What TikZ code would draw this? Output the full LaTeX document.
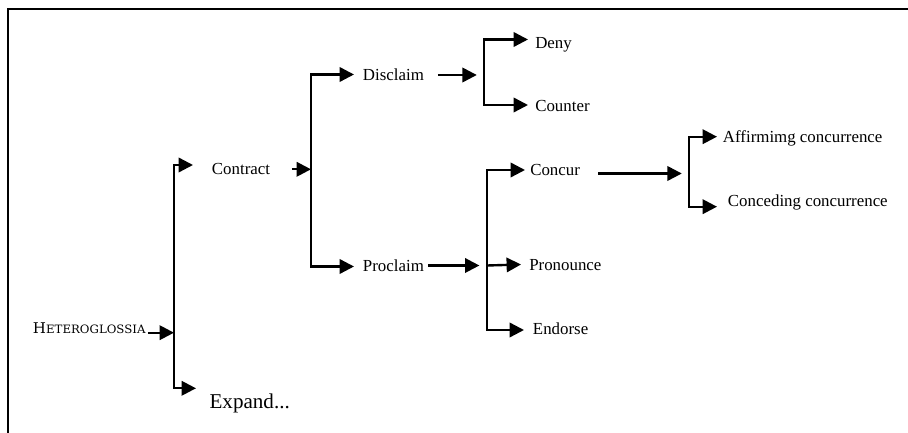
\documentclass[tikz,border=0pt]{standalone}
\usepackage{fontspec}
\setmainfont{Liberation Serif}
\newfontfamily\hetfont{DejaVu Serif}
\usetikzlibrary{arrows.meta}

\begin{document}
\begin{tikzpicture}
  [x=0.25mm,y=-0.25mm,
   lbl/.style={anchor=west,inner sep=0pt,text height=7.9pt,text depth=0pt,font=\fontsize{12}{14}\selectfont},
   arr/.style={-{Triangle[length=3.6mm,width=3.6mm]},line width=1.7pt},
   bar/.style={line width=1.7pt,line cap=rect}]

  \useasboundingbox (0,0) rectangle (908,433);
  \draw[line width=1pt] (8,433) -- (8,9) -- (908,9);

  % labels
  \node[lbl,text height=7.6pt,font=\hetfont] (het) at (32.7,328) {\scalebox{1.02}[1]{\fontsize{10.5}{12}\selectfont H\fontsize{8.2}{9}\selectfont ETEROGLOSSIA}};
  \node[lbl] (contract) at (211.7,169.3) {Contract};
  \node[lbl,text height=9.9pt,font=\fontsize{15}{18}\selectfont] (expand) at (209.3,402) {Expand...};
  \node[lbl] (disclaim) at (362.7,75) {Disclaim};
  \node[lbl] (proclaim) at (362.7,265.5) {Proclaim};
  \node[lbl] (deny) at (535,43) {Deny};
  \node[lbl] (counter) at (535,106) {Counter};
  \node[lbl] (concur) at (530,170) {Concur};
  \node[lbl] (pronounce) at (529,265) {Pronounce};
  \node[lbl] (endorse) at (532.7,329) {Endorse};
  \node[lbl] (affirm) at (722.7,136.7) {Affirmimg concurrence};
  \node[lbl] (concede) at (727.7,200.7) {Conceding concurrence};

  % junctions on the bars
  \coordinate (j1a) at (174,165);
  \coordinate (j1b) at (174,332.7);
  \coordinate (j1c) at (174,388.3);
  \coordinate (j2a) at (311,74.5);
  \coordinate (j2b) at (311,169.3);
  \coordinate (j2c) at (311,266.5);
  \coordinate (j3a) at (484,39.5);
  \coordinate (j3b) at (484,75);
  \coordinate (j3c) at (484,105);
  \coordinate (j4a) at (487,170);
  \coordinate (j4b) at (487,265.5);
  \coordinate (j4c) at (487,330);
  \coordinate (j5a) at (689,136.7);
  \coordinate (j5b) at (689,173.5);
  \coordinate (j5c) at (689,206.7);

  % arrow tips
  \coordinate (tcontract) at (193,165);
  \coordinate (texpand) at (196,388.3);
  \coordinate (tdisclaim) at (354,74.5);
  \coordinate (tproclaim) at (354,266.5);
  \coordinate (tdeny) at (528,39.5);
  \coordinate (tcounter) at (528,105);
  \coordinate (tconcur) at (525,170);
  \coordinate (tpronounce) at (521,264.5);
  \coordinate (tendorse) at (524,330);
  \coordinate (taffirm) at (717,136.7);
  \coordinate (tconcede) at (717,206.7);

  \foreach \top/\bot in {j1a/j1c,j2a/j2c,j3a/j3c,j4a/j4c,j5a/j5c}
    \draw[bar] (\top) -- (\bot);
  \foreach \from/\to in {j1a/tcontract,j1c/texpand,j2a/tdisclaim,j2c/tproclaim,j3a/tdeny,j3c/tcounter,j4a/tconcur,j4b/tpronounce,j4c/tendorse,j5a/taffirm,j5c/tconcede}
    \draw[arr] (\from) -- (\to);
  \foreach \from/\to/\sa/\sb in {het/j1b/0.5/0,contract/j2b/5.4/0,disclaim/j3b/3.4/1.8,proclaim/j4b/1/1.9,concur/j5b/4.5/1.8}
    \draw[arr,shorten <=\sa mm,shorten >=\sb mm] (\from.east |- \to) -- (\to);
\end{tikzpicture}
\end{document}
